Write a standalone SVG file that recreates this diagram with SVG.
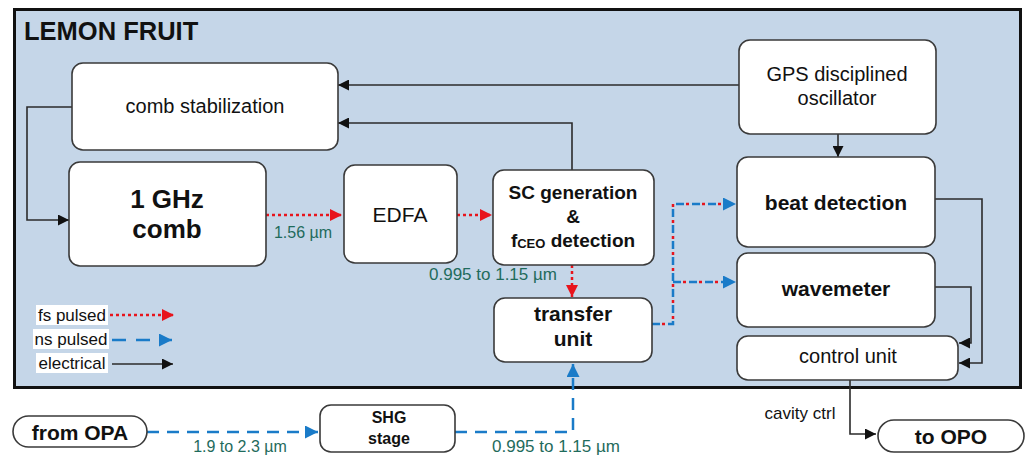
<svg xmlns="http://www.w3.org/2000/svg" width="1029" height="458" viewBox="0 0 1029 458">
<style>
text{font-family:"Liberation Sans",Arial,sans-serif;fill:#111;text-anchor:middle;dominant-baseline:central}
.b{font-weight:bold}
.box{fill:#fff;stroke:#3a3a3a;stroke-width:1.6}
.el{fill:none;stroke:#2b2b2b;stroke-width:1.6}
.fs{fill:none;stroke:#e8141c;stroke-width:2.5;stroke-dasharray:3 3}
.ns{fill:none;stroke:#1a7bc8;stroke-width:2.5;stroke-dasharray:12 8}
.mixb{fill:none;stroke:#1a7bc8;stroke-width:2.5;stroke-dasharray:8 8}
.mixr{fill:none;stroke:#e8141c;stroke-width:2.5;stroke-dasharray:3 13;stroke-dashoffset:-10}
.lbl{fill:#1f6b5c;font-size:16px}
.leg{font-size:17px}
</style>
<defs>
<marker id="ak" viewBox="0 0 10 10" refX="10" refY="5" markerWidth="12" markerHeight="11" markerUnits="userSpaceOnUse" orient="auto"><path d="M0,0L10,5L0,10z" fill="#111"/></marker>
<marker id="ar" viewBox="0 0 10 10" refX="10" refY="5" markerWidth="13" markerHeight="12" markerUnits="userSpaceOnUse" orient="auto"><path d="M0,0L10,5L0,10z" fill="#e8141c"/></marker>
<marker id="ab" viewBox="0 0 10 10" refX="10" refY="5" markerWidth="14" markerHeight="13" markerUnits="userSpaceOnUse" orient="auto"><path d="M0,0L10,5L0,10z" fill="#1a7bc8"/></marker>
</defs>
<rect width="1029" height="458" fill="#fff"/>
<g id="container">
<rect x="14.5" y="9.5" width="1006" height="378" fill="#c5d6e8" stroke="#111" stroke-width="3"/>
<text x="24" y="31" class="b" style="text-anchor:start;font-size:25.5px">LEMON FRUIT</text>
</g>
<g id="connectors">
<path class="el" d="M739,85H338" marker-end="url(#ak)"/>
<path class="el" d="M572,170V123H338" marker-end="url(#ak)"/>
<path class="el" d="M838,134V157" marker-end="url(#ak)"/>
<path class="el" d="M72,107H27V220H69" marker-end="url(#ak)"/>
<path class="fs" d="M266,215H342" marker-end="url(#ar)"/>
<path class="fs" d="M457,215H492" marker-end="url(#ar)"/>
<path class="fs" d="M572,265V297" marker-end="url(#ar)"/>
<path class="mixb" d="M652,324H673V204H736" marker-end="url(#ab)"/>
<path class="mixb" d="M673,282H736" marker-end="url(#ab)"/>
<path class="mixr" d="M652,324H673V204H724"/>
<path class="mixr" d="M673,282H724"/>
<path class="el" d="M935,199H982V363H959" marker-end="url(#ak)"/>
<path class="el" d="M935,287H971V343H959" marker-end="url(#ak)"/>
<path class="el" d="M850,380V434H876" marker-end="url(#ak)"/>
<path class="ns" d="M147,432H318" marker-end="url(#ab)"/>
<path class="ns" d="M455,432H573V364" marker-end="url(#ab)"/>
<text class="lbl" x="303" y="232">1.56 µm</text>
<text class="lbl" x="493" y="274" style="font-size:17px">0.995 to 1.15 µm</text>
<text class="lbl" x="240" y="446">1.9 to 2.3 µm</text>
<text class="lbl" x="556" y="446" style="font-size:17px">0.995 to 1.15 µm</text>
<text x="800" y="413" style="font-size:17px">cavity ctrl</text>
</g>
<g id="legend">
<rect x="36" y="305" width="72" height="20" fill="#fff"/>
<rect x="33" y="329" width="76" height="20" fill="#fff"/>
<rect x="36" y="353" width="72" height="20" fill="#fff"/>
<text class="leg" x="72" y="315">fs pulsed</text>
<text class="leg" x="71" y="339">ns pulsed</text>
<text class="leg" x="72" y="363">electrical</text>
<path class="fs" d="M110,315H174" marker-end="url(#ar)"/>
<path class="ns" d="M112,340H172" style="stroke-dasharray:14 10" marker-end="url(#ab)"/>
<path class="el" d="M112,364H173" marker-end="url(#ak)"/>
</g>
<g id="comb-stabilization"><rect class="box" x="72" y="63" width="266" height="87" rx="11"/><text x="205" y="106" style="font-size:20px">comb stabilization</text></g>
<g id="gps"><rect class="box" x="739" y="40" width="197" height="94" rx="11"/><text x="837" y="74" style="font-size:20px">GPS disciplined</text><text x="837" y="98" style="font-size:20px">oscillator</text></g>
<g id="comb"><rect class="box" x="69" y="162" width="197" height="104" rx="11"/><text class="b" x="167" y="199" style="font-size:26px">1 GHz</text><text class="b" x="167" y="229" style="font-size:26px">comb</text></g>
<g id="edfa"><rect class="box" x="344" y="165" width="113" height="98" rx="11"/><text x="400" y="214" style="font-size:21px">EDFA</text></g>
<g id="sc"><rect class="box" x="493" y="170" width="161" height="95" rx="11"/><text class="b" x="573" y="192" style="font-size:19px">SC generation</text><text class="b" x="573" y="216" style="font-size:19px">&amp;</text><text class="b" x="573" y="240" style="font-size:19px">f<tspan style="font-size:13px" dy="3">CEO</tspan><tspan dy="-3"> detection</tspan></text></g>
<g id="beat"><rect class="box" x="737" y="157" width="198" height="90" rx="11"/><text class="b" x="836" y="202" style="font-size:21px">beat detection</text></g>
<g id="wavemeter"><rect class="box" x="737" y="253" width="198" height="74" rx="11"/><text class="b" x="836" y="288" style="font-size:21px">wavemeter</text></g>
<g id="control"><rect class="box" x="737" y="336" width="221" height="44" rx="11"/><text x="848" y="356" style="font-size:20px">control unit</text></g>
<g id="transfer"><rect class="box" x="494" y="298" width="158" height="64" rx="11"/><text class="b" x="573" y="313" style="font-size:21px">transfer</text><text class="b" x="573" y="338" style="font-size:21px">unit</text></g>
<g id="from-opa"><rect class="box" x="13" y="416" width="134" height="31" rx="15.5"/><text class="b" x="80" y="432" style="font-size:21px">from OPA</text></g>
<g id="shg"><rect class="box" x="320" y="405" width="135" height="47" rx="11"/><text class="b" x="389" y="417" style="font-size:16px">SHG</text><text class="b" x="389" y="438" style="font-size:16px">stage</text></g>
<g id="to-opo"><rect class="box" x="878" y="420" width="146" height="32" rx="16"/><text class="b" x="951" y="436" style="font-size:21px">to OPO</text></g>
</svg>
